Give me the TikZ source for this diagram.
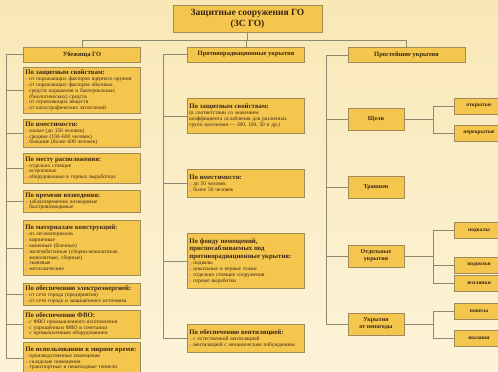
\documentclass[tikz,border=0pt]{standalone}
\usepackage{fontspec}
\setmainfont{Liberation Serif}
\definecolor{bgtop}{HTML}{F9E8B6}
\definecolor{bgbot}{HTML}{FCF3D8}
\definecolor{boxfill}{HTML}{F4C64E}
\definecolor{boxedge}{HTML}{A08C58}
\definecolor{wire}{HTML}{8E8A70}
\definecolor{ink}{HTML}{3A2412}
\definecolor{bulpink}{HTML}{F2A59C}
\newcommand\bul{\textcolor{bulpink}{\rule{2.4pt}{2.4pt}}\hspace{1.6pt}}
\newcommand\ind{\hspace*{4pt}}
\newcommand\ttl[1]{{\fontsize{6.8}{7.8}\selectfont\bfseries #1\par}}
\newcommand\smalltext{\fontsize{5.4}{5.9}\selectfont\lineskiplimit=-5pt\relax}
\tikzset{
  box/.style={draw=boxedge, fill=boxfill, line width=0.8pt, text=ink},
  head/.style={box, minimum width=149pt, minimum height=27pt, align=center,
    font=\fontsize{9.5}{11}\selectfont\bfseries},
  group/.style={box, minimum width=117pt, minimum height=15pt,
    font=\fontsize{6.5}{7.5}\selectfont\bfseries},
  sub/.style={box, anchor=north west, text width=113pt, inner sep=2pt, align=left,
    font=\smalltext},
  kind/.style={box, minimum width=56pt, minimum height=22pt, align=center,
    font=\fontsize{6}{7}\selectfont\bfseries},
  leaf/.style={box, minimum width=50pt, minimum height=16pt,
    font=\fontsize{5.5}{6.5}\selectfont\bfseries},
  link/.style={draw=wire, line width=0.8pt},
}
\begin{document}
\begin{tikzpicture}[x=1pt,y=-1pt]
\useasboundingbox (0,0) rectangle (498,372);
\shade[top color=bgtop, bottom color=bgbot] (0,0) rectangle (498,372);

% top and groups
\node[head] (top) at (247.5,18.5) {Защитные сооружения ГО\\(ЗС ГО)};
\node[group] (g1) at (82,54.5) {Убежища ГО};
\node[group] (g2) at (246,54.5) {Противорадиационные укрытия};
\node[group] (g3) at (406.5,55) {Простейшие укрытия};

% shelters
\node[sub, minimum height=46pt] (b1) at (23,67) {\ttl{По защитным свойствам:}
  \bul от поражающих факторов ядерного оружия\\
  \bul от поражающих факторов обычных\\
  \ind средств поражения и бактериальных\\
  \ind (биологических) средств\\
  \bul от отравляющих веществ\\
  \bul от катастрофических затоплений};
\node[sub, minimum height=28pt] (b2) at (23,119) {\ttl{По вместимости:}
  \bul малые (до 150 человек)\\
  \bul средние (150--600 человек)\\
  \bul большие (более 600 человек)};
\node[sub, minimum height=30pt] (b3) at (23,153) {\ttl{По месту расположения:}
  \bul отдельно стоящие\\
  \bul встроенные\\
  \bul оборудованные в горных выработках};
\node[sub, minimum height=22pt] (b4) at (23,190) {\ttl{По времени возведения:}
  \bul заблаговременно возводимые\\
  \bul быстровозводимые};
\node[sub, minimum height=55pt] (b5) at (23,220) {\ttl{По материалам конструкций:}
  \bul из лесоматериалов\\
  \bul кирпичные\\
  \bul каменные (блочные)\\
  \bul железобетонные (сборно-монолитные,\\
  \ind монолитные, сборные)\\
  \bul тканевые\\
  \bul металлические};
\node[sub, minimum height=21pt] (b6) at (23,283) {\ttl{По обеспечению электроэнергией:}
  \bul от сети города (предприятия)\\
  \bul от сети города и защищённого источника};
\node[sub, minimum height=27pt] (b7) at (23,310) {\ttl{По обеспечению ФВО:}
  \bul с ФВО промышленного изготовления\\
  \bul с упрощённым ФВО в сочетании\\
  \ind с промышленным оборудованием};
\node[sub, minimum height=32pt] (b8) at (23,342) {\ttl{По использованию в мирное время:}
  \bul производственные помещения\\
  \bul складские помещения\\
  \bul транспортные и пешеходные тоннели};

% anti-radiation covers
\node[sub, minimum height=35pt] (m1) at (187,98) {\ttl{По защитным свойствам:}
  (в соответствии со значением\\
  коэффициента ослабления для различных\\
  групп населения --- 200, 100, 50 и др.)};
\node[sub, minimum height=28pt] (m2) at (187,169) {\ttl{По вместимости:}
  \bul до 50 человек\\
  \bul более 50 человек};
\node[sub, minimum height=55pt] (m3) at (187,233) {\ttl{По фонду помещений,\\
  приспосабливаемых под\\ противорадиационные укрытия:}
  \bul подвалы\\
  \bul цокольные и первые этажи\\
  \bul отдельно стоящие сооружения\\
  \bul горные выработки};
\node[sub, minimum height=28pt] (m4) at (187,324) {\ttl{По обеспечению вентиляцией:}
  \bul с естественной вентиляцией\\
  \bul вентиляцией с механическим побуждением};

% simple covers
\node[kind] (k1) at (376,119.5) {Щели};
\node[kind] (k2) at (376,187.5) {Траншеи};
\node[kind] (k3) at (376,256) {Отдельные\\укрытия};
\node[kind] (k4) at (376,324) {Укрытия\\от непогоды};
\node[leaf] (l1) at (479,106) {открытые};
\node[leaf] (l2) at (479,133) {перекрытые};
\node[leaf] (l3) at (479,230.5) {подвалы};
\node[leaf] (l4) at (479,265) {подполья};
\node[leaf] (l5) at (479,283) {землянки};
\node[leaf] (l6) at (479,311.5) {навесы};
\node[leaf] (l7) at (479,338) {шалаши};

% connectors
\coordinate (bus) at (247.5,40);
\coordinate (lsp) at (6,0);
\coordinate (msp) at (163,0);
\coordinate (rsp) at (326,0);
\coordinate (fork) at (433,0);
\draw[link] (top.south) -- (bus);
\draw[link] (g1.north) -- (g1.north |- bus) -- (g3.north |- bus) -- (g3.north);
\draw[link] (g2.north) -- (g2.north |- bus);
\draw[link] (g1.west) -| (b8.west -| lsp);
\foreach \n in {b1,b2,b3,b4,b5,b6,b7,b8}
  \draw[link] (\n.west -| lsp) -- (\n.west);
\draw[link] (g2.west) -| (m4.west -| msp);
\foreach \n in {m1,m2,m3,m4}
  \draw[link] (\n.west -| msp) -- (\n.west);
\draw[link] (g3.west) -| (k4.west -| rsp);
\foreach \n in {k1,k2,k3,k4}
  \draw[link] (\n.west -| rsp) -- (\n.west);
\draw[link] (k1.east) -- (k1.east -| fork);
\draw[link] (l1.west -| fork) -- (l2.west -| fork);
\draw[link] (k3.east) -- (k3.east -| fork);
\draw[link] (l3.west -| fork) -- (l5.west -| fork);
\draw[link] (k4.east) -- (k4.east -| fork);
\draw[link] (l6.west -| fork) -- (l7.west -| fork);
\foreach \n in {l1,l2,l3,l4,l5,l6,l7}
  \draw[link] (\n.west -| fork) -- (\n.west);
\end{tikzpicture}
\end{document}
